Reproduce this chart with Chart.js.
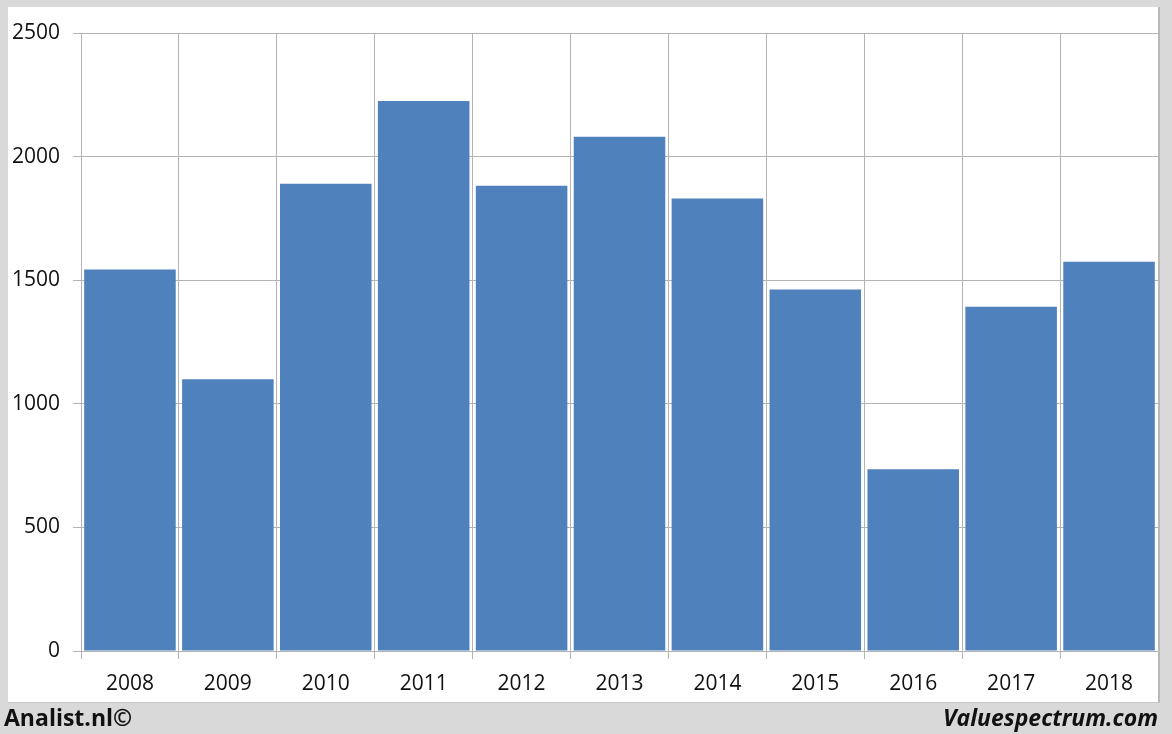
<!DOCTYPE html>
<html lang="en">
<head>
  <meta charset="UTF-8" />
  <title>Valuespectrum chart</title>
  <style>
    body {
      margin: 0;
      background-color: #d9d9d9;
      width: 1172px;
      height: 734px;
      position: relative;
      overflow: hidden;
      font-family: "Open Sans", Arial, sans-serif;
    }

    .panel {
      position: absolute;
      left: 8px;
      top: 7px;
      width: 1150px;
      height: 695px;
      background-color: white;
      border-right: 2px solid #b8b8b8;
      border-bottom: 1px solid #c8c8c8;
    }

    .footer-left, .footer-right {
      position: absolute;
      top: 701px;
      font-size: 23px;
      font-weight: bold;
      color: #111;
    }

    .footer-left { left: 4px; }
    .footer-right { right: 14px; font-style: italic; }
  </style>
</head>
<body>
  <div class="panel">
    <canvas id="chart" width="1150" height="695"></canvas>
  </div>
  <div class="footer-left">Analist.nl©</div>
  <div class="footer-right">Valuespectrum.com</div>

  <script src="https://cdn.jsdelivr.net/npm/chart.js"></script>
  <script>
    const years = ['2008', '2009', '2010', '2011', '2012', '2013', '2014', '2015', '2016', '2017', '2018'];
    const values = [1543, 1099, 1890, 2225, 1882, 2080, 1830, 1462, 735, 1393, 1575];
    const yTicks = [0, 500, 1000, 1500, 2000, 2500];

    const gridColor = '#b3b3b3';
    const tickFont = { family: '"Open Sans", Arial, sans-serif', size: 21 };

    new Chart(document.getElementById('chart'), {
      type: 'bar',
      data: {
        labels: years,
        datasets: [{
          data: values,
          backgroundColor: '#4f81bd',
          borderWidth: 0,
          barPercentage: 0.935,
          categoryPercentage: 1
        }]
      },
      options: {
        responsive: false,
        animation: false,
        layout: { padding: { top: 26, right: 0, bottom: 0, left: 0 } },
        plugins: {
          legend: { display: false },
          tooltip: { enabled: false }
        },
        scales: {
          x: {
            grid: { color: gridColor, tickLength: 8, offset: true },
            border: { color: gridColor },
            ticks: { color: '#111', font: tickFont, padding: 12, maxRotation: 0 },
            afterFit: (scale) => { scale.height = 51; }
          },
          y: {
            min: 0,
            max: 2500,
            afterBuildTicks: (scale) => { scale.ticks = yTicks.map(v => ({ value: v })); },
            grid: { color: gridColor, tickLength: 8 },
            border: { color: gridColor },
            ticks: { color: '#111', font: tickFont, padding: 13, callback: (v) => String(v) },
            afterFit: (scale) => { scale.width = 73; }
          }
        }
      }
    });
  </script>
</body>
</html>
